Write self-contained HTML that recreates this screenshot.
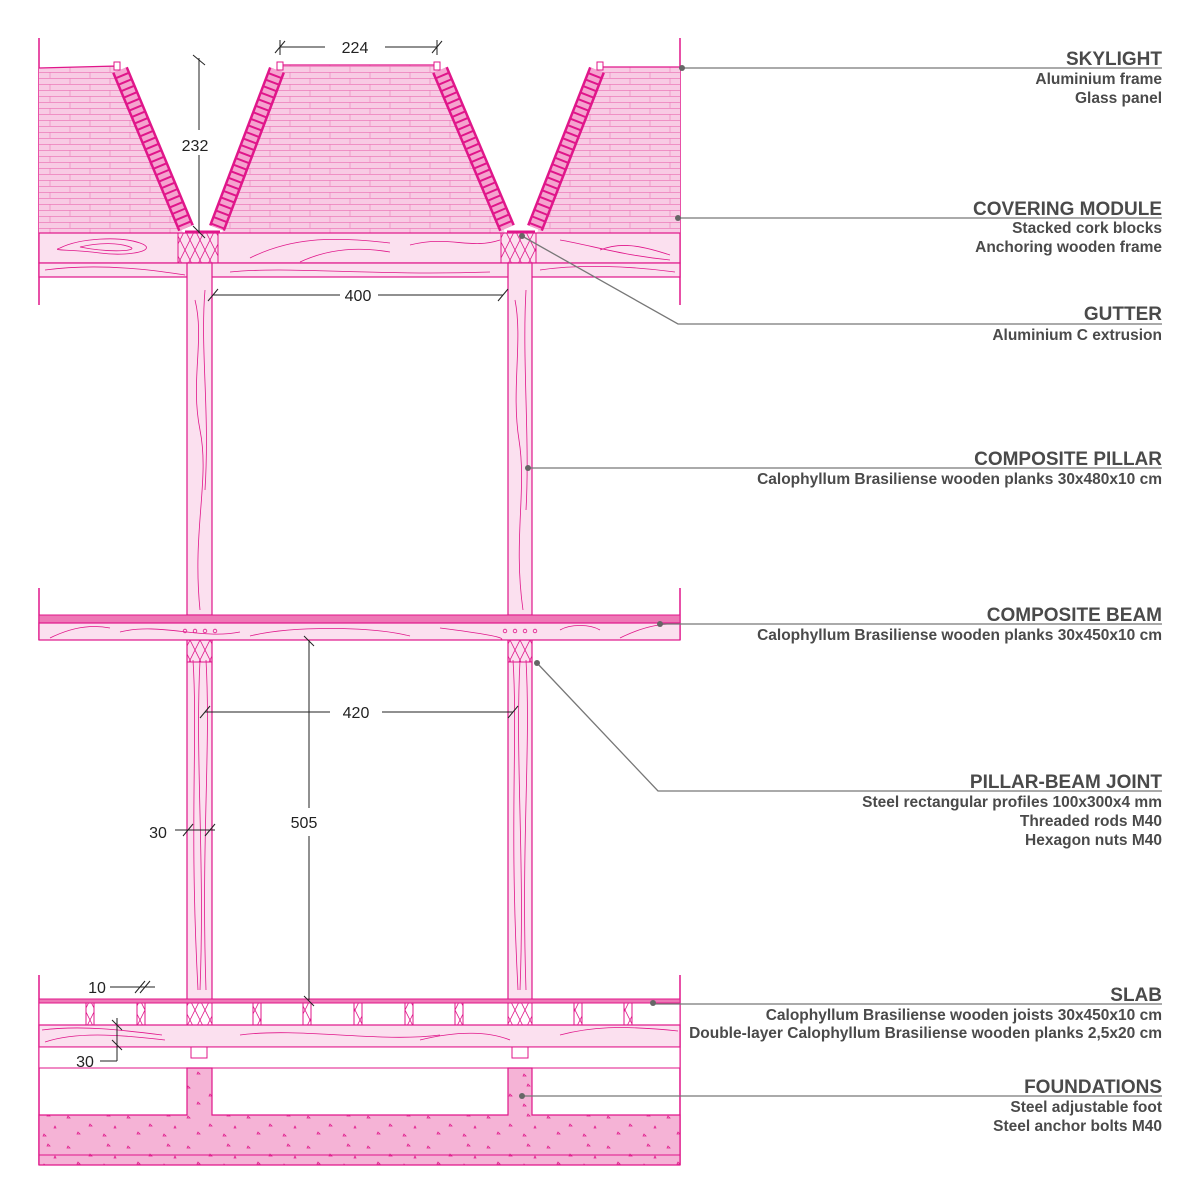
<!DOCTYPE html>
<html><head><meta charset="utf-8"><style>
html,body{margin:0;padding:0;background:#fff;}
svg{display:block;}
.h{font-family:"Liberation Sans",sans-serif;font-weight:bold;font-size:19px;fill:#4a4a4a;text-anchor:end;}
.s{font-family:"Liberation Sans",sans-serif;font-weight:bold;font-size:15.5px;fill:#4a4a4a;text-anchor:end;}
.d{font-family:"Liberation Sans",sans-serif;font-size:16px;fill:#222;text-anchor:middle;}
.g{stroke:#777;stroke-width:1.3;fill:none;}
.k{stroke:#222;stroke-width:1;fill:none;}
.w{stroke:#e0168a;stroke-width:0.8;fill:none;}
</style></head><body>
<svg width="1200" height="1200" viewBox="0 0 1200 1200" xmlns="http://www.w3.org/2000/svg">
<defs>
<pattern id="cork" width="40" height="12" patternUnits="userSpaceOnUse">
<rect width="40" height="12" fill="#f8cbe4"/>
<line x1="0" y1="0.5" x2="40" y2="0.5" stroke="#ec7cb9" stroke-width="0.8"/>
<line x1="0" y1="6.5" x2="40" y2="6.5" stroke="#ec7cb9" stroke-width="0.8"/>
<line x1="10" y1="0" x2="10" y2="6" stroke="#ec7cb9" stroke-width="0.6"/>
<line x1="30" y1="6" x2="30" y2="12" stroke="#ec7cb9" stroke-width="0.6"/>
</pattern>
<pattern id="dots" width="60" height="30" patternUnits="userSpaceOnUse">
<rect width="60" height="30" fill="#f5b3d6"/>
<g fill="none" stroke="#e0168a" stroke-width="0.7">
<path d="M8 6l2 2-3 0z"/><path d="M30 14l2 2-3 0z"/><path d="M48 4l2 2-3 0z"/><path d="M18 22l2 2-3 0z"/><path d="M44 24l2 2-3 0z"/><path d="M55 16l1 2-2 0z"/>
</g></pattern>
<pattern id="joist" width="10" height="20" patternUnits="userSpaceOnUse">
<path d="M0 0L10 20M10 0L0 20" stroke="#e0168a" stroke-width="0.8"/>
</pattern>
</defs>

<g stroke="#e0168a" stroke-width="1.5">
<line x1="39" y1="38" x2="39" y2="305"/><line x1="680" y1="38" x2="680" y2="305"/>
<line x1="39" y1="588" x2="39" y2="640"/><line x1="680" y1="588" x2="680" y2="640"/>
<line x1="39" y1="975" x2="39" y2="1165"/><line x1="680" y1="975" x2="680" y2="1165"/>
</g>

<polygon points="39,68 117,66 183,233 222,233 280,65 437,65 505,233 537,233 600,67 680,67 680,233 39,233" fill="url(#cork)"/>
<g stroke="#e0168a" stroke-width="1.3">
<line x1="39" y1="68" x2="117" y2="66"/><line x1="280" y1="65" x2="437" y2="65"/><line x1="600" y1="67" x2="680" y2="67"/>
</g>
<g stroke-linecap="butt">
<g stroke="#e0168a" stroke-width="17">
<line x1="120" y1="70" x2="186" y2="228"/><line x1="277" y1="70" x2="217" y2="228"/>
<line x1="440" y1="70" x2="507" y2="228"/><line x1="597" y1="70" x2="535" y2="228"/>
</g>
<g stroke="#f5a3cf" stroke-width="12" stroke-dasharray="5 2">
<line x1="120" y1="70" x2="186" y2="228"/><line x1="277" y1="70" x2="217" y2="228"/>
<line x1="440" y1="70" x2="507" y2="228"/><line x1="597" y1="70" x2="535" y2="228"/>
</g>
</g>
<g fill="#fff" stroke="#e0168a"><rect x="114" y="62" width="6" height="8"/><rect x="277" y="62" width="6" height="8"/><rect x="434" y="62" width="6" height="8"/><rect x="597" y="62" width="6" height="8"/></g>

<rect x="39" y="233" width="641" height="30" fill="#fbe0ef" stroke="#e0168a" stroke-width="1.2"/>
<rect x="39" y="263" width="641" height="14" fill="#fbe0ef" stroke="#e0168a" stroke-width="1.2"/>
<g class="w">
<path d="M60 248c20-10 60-12 80-5s-10 14-40 10-50-2-40-5z"/><path d="M80 247c20-5 40-4 50 0s-20 6-50 0z"/>
<path d="M250 258c40-20 80-22 140-15M300 262c30-14 60-15 90-10M410 245c40-10 60 5 90 -5M560 240c30 5 60 15 110 20M600 250c20-8 40-5 70 5"/>
<path d="M45 270c60-8 120 2 140 5M230 272c60-6 140 4 260 0M540 270c40-6 90-4 135 2"/>
</g>
<g><rect x="178" y="233" width="40" height="30" fill="url(#joist)" stroke="#e0168a"/><rect x="501" y="233" width="35" height="30" fill="url(#joist)" stroke="#e0168a"/>
<line x1="185" y1="232" x2="220" y2="232" stroke="#e0168a" stroke-width="3"/><line x1="507" y1="232" x2="535" y2="232" stroke="#e0168a" stroke-width="3"/></g>

<g fill="#fbe0ef" stroke="#e0168a" stroke-width="1.2">
<rect x="187" y="263" width="25" height="352"/><rect x="508" y="263" width="24" height="352"/>
<rect x="187" y="640" width="25" height="360"/><rect x="508" y="640" width="24" height="360"/>
</g>
<g class="w">
<path d="M195 300c10 40-5 80 5 130s-8 100 0 180M205 290c-5 60 5 120 0 200"/>
<path d="M515 300c8 40-4 90 4 140s-6 100 4 170M526 290c-4 70 4 150 0 220"/>
<path d="M193 660c5 80-4 160 5 330M200 660c-5 100 5 200 0 330M206 660c5 90-5 180 0 330"/>
<path d="M513 660c5 80-4 160 5 330M520 660c-5 100 5 200 0 330M526 660c5 90-5 180 0 330"/>
</g>
<rect x="187" y="640" width="25" height="22" fill="url(#joist)" stroke="#e0168a"/>
<rect x="508" y="640" width="24" height="22" fill="url(#joist)" stroke="#e0168a"/>

<rect x="39" y="615" width="641" height="8" fill="#ee78b6" stroke="#e0168a"/>
<rect x="39" y="623" width="641" height="17" fill="#fbe0ef" stroke="#e0168a" stroke-width="1.2"/>
<g class="w"><path d="M50 638c20-10 40-14 60-10M120 632c40-10 80 8 120 0M250 636c40-10 120-10 160 0M440 628c40 5 70 10 60 12M560 630c10-6 30-6 40 0M620 638c20-10 40-15 58-14"/></g>
<g fill="none" stroke="#e0168a" stroke-width="0.8">
<circle cx="185" cy="631" r="1.8"/><circle cx="195" cy="631" r="1.8"/><circle cx="205" cy="631" r="1.8"/><circle cx="215" cy="631" r="1.8"/>
<circle cx="505" cy="631" r="1.8"/><circle cx="515" cy="631" r="1.8"/><circle cx="525" cy="631" r="1.8"/><circle cx="535" cy="631" r="1.8"/>
</g>

<rect x="39" y="999" width="641" height="4" fill="#ee78b6" stroke="#e0168a"/>
<rect x="39" y="1003" width="641" height="22" fill="#fff" stroke="#e0168a"/>
<g fill="url(#joist)" stroke="#e0168a">
<rect x="86" y="1003" width="8" height="22"/><rect x="137" y="1003" width="8" height="22"/><rect x="187" y="1003" width="25" height="22"/>
<rect x="253" y="1003" width="8" height="22"/><rect x="303" y="1003" width="8" height="22"/><rect x="354" y="1003" width="8" height="22"/>
<rect x="405" y="1003" width="8" height="22"/><rect x="455" y="1003" width="8" height="22"/><rect x="508" y="1003" width="24" height="22"/>
<rect x="574" y="1003" width="8" height="22"/><rect x="624" y="1003" width="8" height="22"/>
</g>
<rect x="39" y="1025" width="641" height="22" fill="#fbe0ef" stroke="#e0168a" stroke-width="1.2"/>
<g class="w"><path d="M42 1030c40-5 80 0 120 5M45 1042c30-10 70-8 120-2M240 1035c60-8 140 8 200 0M420 1040c40-10 70-8 90 0M560 1035c30-8 60-10 118-4"/></g>
<rect x="39" y="1047" width="641" height="21" fill="#fff" stroke="#e0168a"/>
<rect x="191" y="1047" width="16" height="11" fill="#fff" stroke="#e0168a"/>
<rect x="512" y="1047" width="16" height="11" fill="#fff" stroke="#e0168a"/>
<path d="M39 1115H187V1068H212V1115H508V1068H532V1115H680V1165H39Z" fill="url(#dots)" stroke="#e0168a" stroke-width="1.2"/>
<line x1="39" y1="1155" x2="680" y2="1155" stroke="#e0168a"/>

<g class="k">
<line x1="280" y1="47" x2="325" y2="47"/><line x1="385" y1="47" x2="437" y2="47"/>
<line x1="275" y1="53" x2="285" y2="41"/><line x1="432" y1="53" x2="442" y2="41"/>
<line x1="280" y1="40" x2="280" y2="55"/><line x1="437" y1="40" x2="437" y2="55"/>
<line x1="199" y1="58" x2="199" y2="130"/><line x1="199" y1="155" x2="199" y2="233"/>
<line x1="193" y1="55" x2="205" y2="65"/><line x1="193" y1="226" x2="205" y2="238"/>
<line x1="213" y1="295" x2="340" y2="295"/><line x1="378" y1="295" x2="503" y2="295"/>
<line x1="208" y1="301" x2="218" y2="289"/><line x1="498" y1="301" x2="508" y2="289"/>
<line x1="205" y1="712" x2="330" y2="712"/><line x1="382" y1="712" x2="513" y2="712"/>
<line x1="200" y1="718" x2="210" y2="706"/><line x1="508" y1="718" x2="518" y2="706"/>
<line x1="309" y1="640" x2="309" y2="808"/><line x1="309" y1="836" x2="309" y2="1000"/>
<line x1="304" y1="636" x2="314" y2="646"/><line x1="304" y1="996" x2="314" y2="1006"/>
<line x1="175" y1="830" x2="215" y2="830"/><line x1="183" y1="836" x2="193" y2="824"/><line x1="205" y1="836" x2="215" y2="824"/>
<line x1="110" y1="987" x2="155" y2="987"/><line x1="135" y1="993" x2="145" y2="981"/><line x1="140" y1="993" x2="150" y2="981"/>
<line x1="100" y1="1061" x2="117" y2="1061"/><line x1="117" y1="1061" x2="117" y2="1018"/><line x1="112" y1="1020" x2="122" y2="1030"/><line x1="112" y1="1040" x2="122" y2="1050"/>
</g>
<text class="d" x="355" y="53">224</text>
<text class="d" x="195" y="151">232</text>
<text class="d" x="358" y="301">400</text>
<text class="d" x="356" y="718">420</text>
<text class="d" x="304" y="828">505</text>
<text class="d" x="158" y="838">30</text>
<text class="d" x="97" y="993">10</text>
<text class="d" x="85" y="1067">30</text>

<g class="g">
<line x1="682" y1="68" x2="1162" y2="68"/>
<line x1="678" y1="218" x2="1162" y2="218"/>
<polyline points="522,236 678,324 1162,324"/>
<line x1="528" y1="468" x2="1162" y2="468"/>
<line x1="660" y1="624" x2="1162" y2="624"/>
<polyline points="537,663 658,791 1162,791"/>
<line x1="653" y1="1004" x2="1162" y2="1004"/>
<line x1="522" y1="1096" x2="1162" y2="1096"/>
</g>
<g fill="#666"><circle cx="682" cy="68" r="3"/><circle cx="678" cy="218" r="3"/><circle cx="522" cy="236" r="3"/><circle cx="528" cy="468" r="3"/><circle cx="660" cy="624" r="3"/><circle cx="537" cy="663" r="3"/><circle cx="653" cy="1003" r="3"/><circle cx="522" cy="1096" r="3"/></g>

<text class="h" x="1162" y="65">SKYLIGHT</text>
<text class="s" x="1162" y="84">Aluminium frame</text>
<text class="s" x="1162" y="103">Glass panel</text>
<text class="h" x="1162" y="215">COVERING MODULE</text>
<text class="s" x="1162" y="233">Stacked cork blocks</text>
<text class="s" x="1162" y="252">Anchoring wooden frame</text>
<text class="h" x="1162" y="320">GUTTER</text>
<text class="s" x="1162" y="340">Aluminium C extrusion</text>
<text class="h" x="1162" y="465">COMPOSITE PILLAR</text>
<text class="s" x="1162" y="484">Calophyllum Brasiliense wooden planks 30x480x10 cm</text>
<text class="h" x="1162" y="621">COMPOSITE BEAM</text>
<text class="s" x="1162" y="640">Calophyllum Brasiliense wooden planks 30x450x10 cm</text>
<text class="h" x="1162" y="788">PILLAR-BEAM JOINT</text>
<text class="s" x="1162" y="807">Steel rectangular profiles 100x300x4 mm</text>
<text class="s" x="1162" y="826">Threaded rods  M40</text>
<text class="s" x="1162" y="845">Hexagon nuts M40</text>
<text class="h" x="1162" y="1001">SLAB</text>
<text class="s" x="1162" y="1020">Calophyllum Brasiliense wooden joists 30x450x10 cm</text>
<text class="s" x="1162" y="1038">Double-layer Calophyllum Brasiliense wooden planks 2,5x20 cm</text>
<text class="h" x="1162" y="1093">FOUNDATIONS</text>
<text class="s" x="1162" y="1112">Steel adjustable foot</text>
<text class="s" x="1162" y="1131">Steel anchor bolts M40</text>
</svg>
</body></html>
